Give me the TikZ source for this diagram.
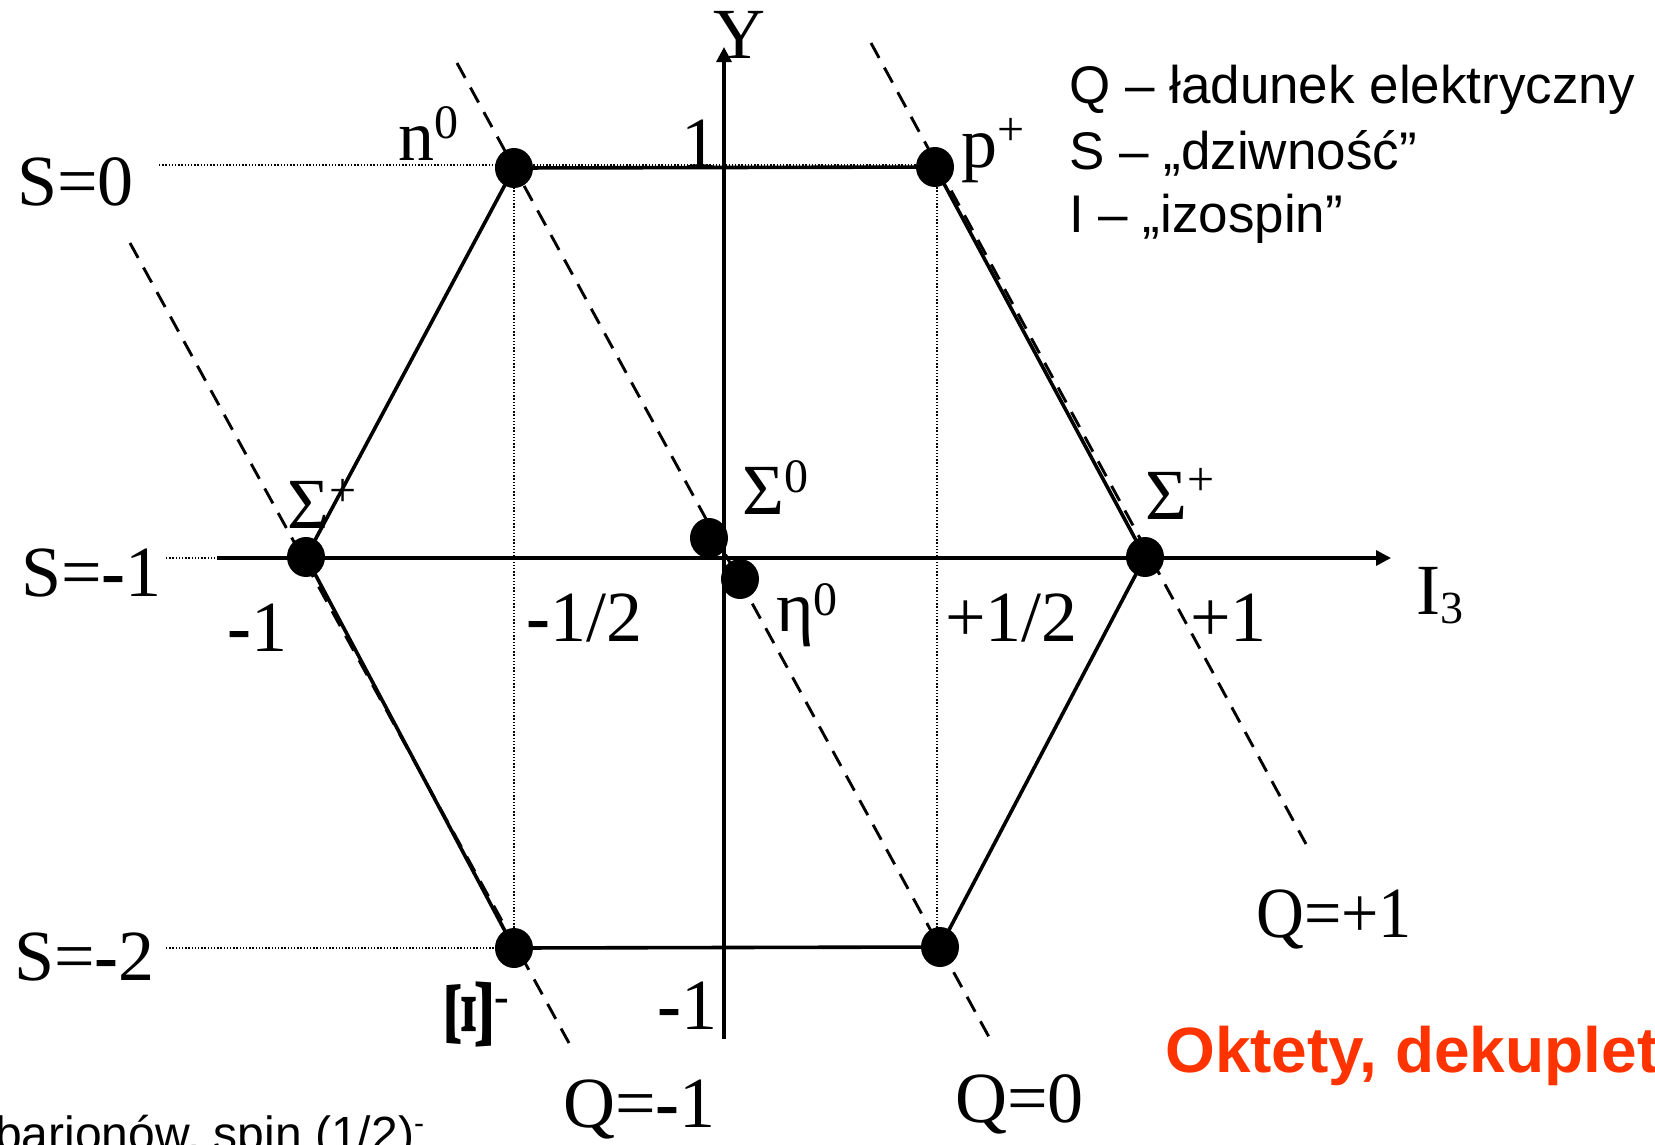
\documentclass[tikz,border=0pt]{standalone}
\usepackage{fontspec}
\setmainfont{Liberation Serif}
\newfontfamily\sansf{Liberation Sans}
\usetikzlibrary{arrows.meta,shapes.geometric}
\definecolor{okt}{RGB}{255,51,0}
\newcommand\mysupx[2][22pt]{\raisebox{#1}{\fontsize{48}{48}\selectfont #2}}
\begin{document}
\begin{tikzpicture}[x=1pt,y=-1pt,
  lab/.style={anchor=base west,inner sep=0pt,font=\fontsize{72}{72}\selectfont},
  leg/.style={anchor=base west,inner sep=0pt,font=\sansf\fontsize{53}{53}\selectfont},
  dot/.style={ellipse,fill=black,minimum width=38pt,minimum height=40pt,inner sep=0pt},
  edge/.style={line width=3.6pt,line join=round},
  axis/.style={line width=3.3pt,-{Triangle[length=15pt,width=15pt]}},
  qline/.style={line width=2.9pt,dash pattern=on 17pt off 11pt},
  guide/.style={line width=1.3pt,dash pattern=on 1.3pt off 1.9pt}]
\useasboundingbox (0,0) rectangle (1655,1144);
% particle dots
\node[dot] (n)   at (514,168) {};
\node[dot] (p)   at (935,167) {};
\node[dot] (sm)  at (306,557) {};
\node[dot] (sp)  at (1145,557) {};
\node[dot] (br)  at (940,947) {};
\node[dot] (xi)  at (514,948) {};
\node[dot] (sz)  at (709,538) {};
\node[dot] (eta) at (740,579) {};
% helper coordinates
\coordinate (ybot) at (724,1039);
\coordinate (ytop) at (724,47);
\coordinate (xl) at (217,558);
\coordinate (xr) at (1391,558);
\coordinate (g0) at (159,165);
\coordinate (g0e) at (935,165);
\coordinate (g1) at (166,558);
\coordinate (g2) at (166,948);
\coordinate (v2t) at (937,168);
\coordinate (v2b) at (937,947);
\coordinate (q1a) at (130,243);
\coordinate (q1b) at (569,1043);
\coordinate (q0a) at (457,63);
\coordinate (q0b) at (989,1037);
\coordinate (qpa) at (871,43);
\coordinate (qpb) at (1306,844);
% dotted guides
\draw[guide] (g0) -- (g0e);
\draw[guide] (g1) -- (xl);
\draw[guide] (g2) -- (xi.center);
\draw[guide] (n.center) -- (xi.center);
\draw[guide] (v2t) -- (v2b);
% hexagon
\draw[edge] (n.center) -- (p.center) -- (sp.center) -- (br.center) -- (xi.center) -- (sm.center) -- cycle;
% axes
\draw[axis] (xl) -- (xr);
\draw[axis] (ybot) -- (ytop);
% charge lines
\draw[qline] (q1a) -- (q1b);
\draw[qline] (q0a) -- (q0b);
\draw[qline] (qpa) -- (qpb);
% labels
\node[lab] (lS0) at (17,205) {S=0};
\node[lab] (lS1) at (21,596) {S=\textbf{-}1};
\node[lab] (lS2) at (14,980) {S=\textbf{-}2};
\node[lab] (ln) at (398,160) {n\mysupx{0}};
\node[lab] (l1) at (681,167) {1};
\node[lab] (lp) at (961,167) {p\mysupx{+}};
\node[lab] (lY) at (713,58) {Y};
\node[leg] (lq) at (1069,103) {Q – ładunek elektryczny};
\node[leg] (ls) at (1069,169) {S – „dziwność”};
\node[leg] (li) at (1069,232) {I – „izospin”};
\node[lab] (lsm) at (287,528) {Σ\mysupx{+}};
\node[lab] (ls0) at (742,514) {Σ\mysupx{0}};
\node[lab] (lsp) at (1145,519) {Σ\mysupx[24pt]{+}};
\node[lab] (lm1) at (227,651) {\textbf{-}1};
\node[lab] (lmh) at (526,641) {\textbf{-}1/2};
\node[lab] (leta) at (776,631) {η\mysupx[16pt]{0}};
\node[lab] (lph) at (945,641) {+1/2};
\node[lab] (lp1) at (1190,641) {+1};
\node[lab] (lI3) at (1416,614) {I\raisebox{-9pt}{\fontsize{46}{46}\selectfont 3}};
\node[lab] (lmb) at (657,1029) {\textbf{-}1};
\node[lab] (lq1) at (563,1127) {Q=\textbf{-}1};
\node[lab] (lq0) at (955,1122) {Q=0};
\node[lab,xscale=0.92] (lqp) at (1256,937) {Q=+1};
\node[inner sep=0pt,rotate=90,font=\fontsize{68}{68}\selectfont\bfseries] (lxi) at (469,1014) {\scalebox{1.65}[1]{Ξ}};
\node[inner sep=0pt,font=\fontsize{44}{44}\selectfont\bfseries] (lxim) at (502,1005) {-};
\node[anchor=base west,inner sep=0pt,text=okt,font=\sansf\bfseries\fontsize{64}{64}\selectfont] (lok) at (1165,1072) {Oktety, dekuplet};
\node[anchor=base west,inner sep=0pt,font=\sansf\fontsize{48}{48}\selectfont] (lbar) at (-5,1150) {barionów, spin (1/2)\raisebox{17pt}{\fontsize{30}{30}\selectfont -}};
\end{tikzpicture}
\end{document}
